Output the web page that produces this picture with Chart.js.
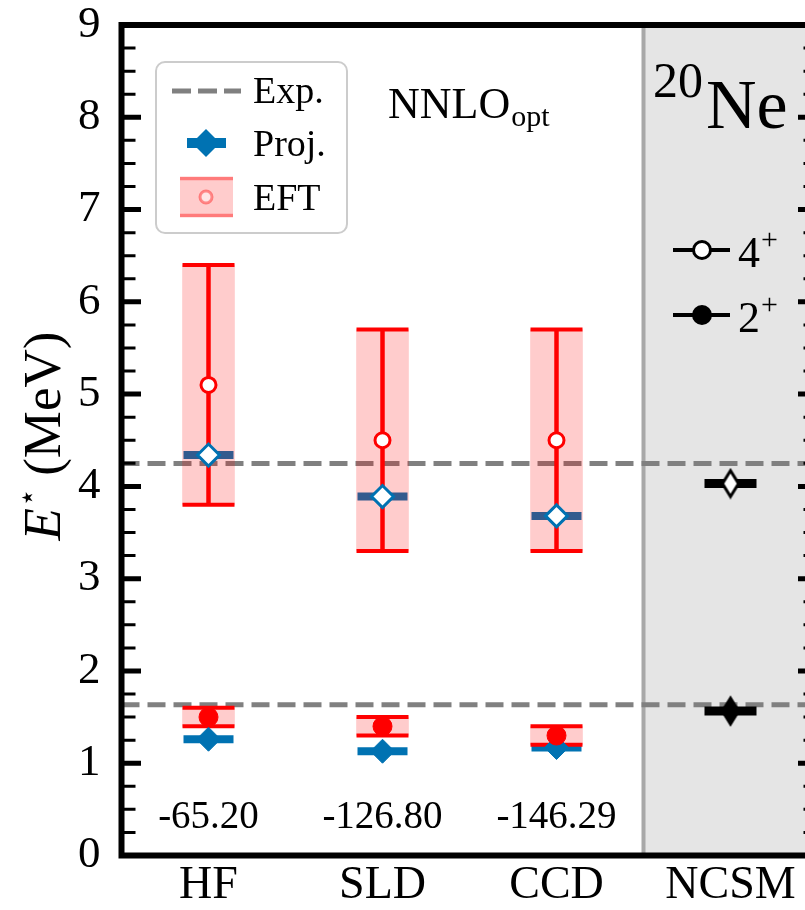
<!DOCTYPE html>
<html><head><meta charset="utf-8">
<script src="https://cdn.jsdelivr.net/npm/chart.js@4.4.1/dist/chart.umd.min.js"></script>
<style>
html,body{margin:0;padding:0;background:#fff;overflow:hidden;width:805px;height:910px}
#wrap{position:relative;width:830px;height:910px}
canvas{display:block}
</style></head>
<body><div id="wrap"><canvas id="c" width="830" height="910" style="width:830px;height:910px"></canvas></div>
<script>
// ---------------- data ----------------
const categories = ['HF', 'SLD', 'CCD', 'NCSM'];
const methodIdx = [0, 1, 2];
const expLevels = [1.634, 4.248];           // Exp. 2+ and 4+
const eft4Center = [5.1, 4.5, 4.5];
const eft4Low = [3.8, 3.3, 3.3];
const eft4High = [6.4, 5.7, 5.7];
const eft2Center = [1.5, 1.4, 1.3];
const eft2Low = [1.4, 1.3, 1.2];
const eft2High = [1.6, 1.5, 1.4];
const proj4 = [4.34, 3.89, 3.68];
const proj2 = [1.26, 1.13, 1.17];
const ncsmIdx = 3;
const ncsm4 = [4.03];
const ncsm2 = [1.565];
const groundEnergies = ['-65.20', '-126.80', '-146.29'];
const yTickValues = [0, 1, 2, 3, 4, 5, 6, 7, 8, 9];

// ---------------- style ----------------
const SERIF = '"Liberation Serif", "DejaVu Serif", serif';
const BLUE = '#0072b2';
const RED = '#ff0000';
const BAND = 'rgba(255,0,0,0.2)';
const EXPC = '#808080';
Chart.defaults.color = '#000';

function thinDiamond(fill) {
  const c = document.createElement('canvas');
  c.width = 24; c.height = 32;
  const g = c.getContext('2d');
  g.beginPath();
  g.moveTo(12, 3); g.lineTo(20, 16); g.lineTo(12, 29); g.lineTo(4, 16); g.closePath();
  g.fillStyle = fill; g.fill();
  g.lineWidth = 3; g.strokeStyle = '#000'; g.lineJoin = 'miter'; g.stroke();
  return c;
}
const dOpen = thinDiamond('#fff');
const dFull = thinDiamond('#000');

const pts = (xs, ys) => xs.map((x, i) => ({ x, y: ys[i] }));
function vSegments(xs, lo, hi) {
  const out = [];
  xs.forEach((x, i) => { out.push({ x, y: lo[i] }, { x, y: hi[i] }, { x, y: null }); });
  return out;
}

const datasets = [
  ...expLevels.map(v => ({
    type: 'line', data: [{ x: -0.5, y: v }, { x: 3.5, y: v }],
    borderColor: EXPC, borderWidth: 5, borderDash: [18, 8], pointRadius: 0, order: 100
  })),
  { type: 'scatter', data: pts(methodIdx, proj4).concat(pts(methodIdx, proj2)),
    pointStyle: 'line', pointRadius: 25, borderColor: BLUE, pointBorderWidth: 8, order: 90 },
  { type: 'scatter', data: pts([ncsmIdx], ncsm4).concat(pts([ncsmIdx], ncsm2)),
    pointStyle: 'line', pointRadius: 26, borderColor: '#000', pointBorderWidth: 9, order: 90 },
  { type: 'bar', data: methodIdx.map(i => ({ x: i, y: [eft4Low[i], eft4High[i]] })),
    backgroundColor: BAND, borderWidth: 0, barThickness: 52, grouped: false, order: 80 },
  { type: 'bar', data: methodIdx.map(i => ({ x: i, y: [eft2Low[i], eft2High[i]] })),
    backgroundColor: BAND, borderWidth: 0, barThickness: 52, grouped: false, order: 80 },
  { type: 'line', data: vSegments(methodIdx, eft4Low, eft4High).concat(vSegments(methodIdx, eft2Low, eft2High)),
    borderColor: RED, borderWidth: 4.5, pointRadius: 0, spanGaps: false, order: 70 },
  { type: 'scatter', data: pts(methodIdx, eft4Low).concat(pts(methodIdx, eft4High), pts(methodIdx, eft2Low), pts(methodIdx, eft2High)),
    pointStyle: 'line', pointRadius: 26, borderColor: RED, pointBorderWidth: 4, order: 60 },
  { type: 'scatter', data: pts(methodIdx, proj2),
    pointStyle: 'rectRot', pointRadius: 12, backgroundColor: BLUE, borderColor: BLUE, pointBorderWidth: 1, order: 55 },
  { type: 'scatter', data: pts(methodIdx, eft2Center),
    pointStyle: 'circle', pointRadius: 9.5, backgroundColor: RED, borderColor: RED, pointBorderWidth: 1, order: 50 },
  { type: 'scatter', data: pts(methodIdx, eft4Center),
    pointStyle: 'circle', pointRadius: 7.5, backgroundColor: '#fff', borderColor: RED, pointBorderWidth: 3, order: 50 },
  { type: 'scatter', data: pts(methodIdx, proj4),
    pointStyle: 'rectRot', pointRadius: 11, backgroundColor: '#fff', borderColor: BLUE, pointBorderWidth: 3, order: 40 },
  { type: 'scatter', data: pts([ncsmIdx], ncsm4), pointStyle: dOpen, pointRadius: 12, order: 40 },
  { type: 'scatter', data: pts([ncsmIdx], ncsm2), pointStyle: dFull, pointRadius: 12, order: 40 }
];

const decor = {
  id: 'decor',
  beforeDatasetsDraw(chart) {
    const { ctx, chartArea: a, scales: { x } } = chart;
    const x1 = x.getPixelForValue(2.5), x2 = x.getPixelForValue(3.5);
    ctx.save();
    ctx.fillStyle = '#e5e5e5';
    ctx.fillRect(x1, a.top, x2 - x1, a.bottom - a.top);
    ctx.strokeStyle = '#a8a8a8'; ctx.lineWidth = 4;
    ctx.beginPath(); ctx.moveTo(x1, a.top); ctx.lineTo(x1, a.bottom); ctx.stroke();
    ctx.restore();
  },
  afterDraw(chart) {
    const { ctx, chartArea: a, scales: { x, y } } = chart;
    ctx.save();
    ctx.strokeStyle = '#000';
    for (let k = 0; k <= 36; k++) {
      const v = k * 0.25, major = k % 4 === 0;
      const py = y.getPixelForValue(v);
      ctx.lineWidth = major ? 5 : 3;
      const L = major ? 19.5 : 14;
      ctx.beginPath();
      ctx.moveTo(a.left, py); ctx.lineTo(a.left + L, py);
      ctx.moveTo(a.right, py); ctx.lineTo(a.right - L, py);
      ctx.stroke();
    }
    ctx.lineWidth = 6; ctx.strokeStyle = '#000';
    ctx.strokeRect(a.left, a.top, a.right - a.left, a.bottom - a.top);

    // y label
    ctx.save();
    ctx.fillStyle = '#000';
    ctx.translate(46, 436); ctx.rotate(-Math.PI / 2);
    ctx.textBaseline = 'middle';
    const fI = 'italic 53px ' + SERIF, fS = '30px ' + SERIF, fN = '53px ' + SERIF;
    ctx.font = fI; const wE = ctx.measureText('E').width;
    ctx.font = fS; const wS = ctx.measureText('\u22C6').width;
    ctx.font = fN; const wR = ctx.measureText(' (MeV)').width;
    let sx = -(wE + wS + wR) / 2;
    ctx.font = fI; ctx.fillText('E', sx, 0); sx += wE + 1;
    ctx.font = fS; ctx.fillText('\u22C6', sx, -17); sx += wS - 1;
    ctx.font = fN; ctx.fillText(' (MeV)', sx, 0);
    ctx.restore();

    ctx.fillStyle = '#000';
    ctx.font = '39px ' + SERIF; ctx.textAlign = 'center'; ctx.textBaseline = 'alphabetic';
    const by = y.getPixelForValue(0.3);
    methodIdx.forEach(i => ctx.fillText(groundEnergies[i], x.getPixelForValue(i), by));

    ctx.textAlign = 'left';
    ctx.font = '44px ' + SERIF; ctx.fillText('NNLO', 388, 118);
    const wN = ctx.measureText('NNLO').width;
    ctx.font = '30px ' + SERIF; ctx.fillText('opt', 388 + wN + 1, 126);

    ctx.font = '50px ' + SERIF; ctx.fillText('20', 653, 97);
    const w20 = ctx.measureText('20').width;
    ctx.font = '70px ' + SERIF; ctx.fillText('Ne', 653 + w20 + 3, 128);

    const rows = [{ yy: 250, fill: '#fff', t: '4' }, { yy: 315, fill: '#000', t: '2' }];
    rows.forEach(r => {
      ctx.strokeStyle = '#000'; ctx.lineWidth = 4;
      ctx.beginPath(); ctx.moveTo(673, r.yy); ctx.lineTo(730, r.yy); ctx.stroke();
      ctx.beginPath(); ctx.arc(702, r.yy, 8.5, 0, Math.PI * 2);
      ctx.fillStyle = r.fill; ctx.fill(); ctx.lineWidth = 3; ctx.stroke();
      ctx.fillStyle = '#000';
      ctx.font = '44px ' + SERIF; ctx.fillText(r.t, 738, r.yy + 17);
      const wt = ctx.measureText(r.t).width;
      ctx.font = '30px ' + SERIF; ctx.fillText('+', 738 + wt + 1, r.yy - 1);
    });

    ctx.beginPath(); ctx.roundRect(156, 62, 191, 171, 9);
    ctx.fillStyle = 'rgba(255,255,255,0.85)'; ctx.fill();
    ctx.lineWidth = 2; ctx.strokeStyle = '#cccccc'; ctx.stroke();
    ctx.setLineDash([19, 7]); ctx.lineWidth = 5; ctx.strokeStyle = EXPC;
    ctx.beginPath(); ctx.moveTo(172, 91); ctx.lineTo(241, 91); ctx.stroke();
    ctx.setLineDash([]);
    ctx.fillStyle = BLUE;
    ctx.fillRect(187, 138, 39, 10);
    ctx.beginPath(); ctx.moveTo(206, 129); ctx.lineTo(220, 143); ctx.lineTo(206, 157); ctx.lineTo(192, 143); ctx.closePath(); ctx.fill();
    ctx.fillStyle = BAND; ctx.fillRect(180, 177, 53, 40);
    ctx.strokeStyle = 'rgba(255,0,0,0.4)'; ctx.lineWidth = 3.5;
    ctx.beginPath(); ctx.moveTo(180, 178.5); ctx.lineTo(233, 178.5); ctx.moveTo(180, 215.5); ctx.lineTo(233, 215.5); ctx.stroke();
    ctx.beginPath(); ctx.arc(206, 197, 6, 0, Math.PI * 2);
    ctx.fillStyle = 'rgba(255,255,255,0.5)'; ctx.fill(); ctx.lineWidth = 3; ctx.stroke();
    ctx.fillStyle = '#000'; ctx.font = '38px ' + SERIF;
    ctx.fillText('Exp.', 253, 103);
    ctx.fillText('Proj.', 253, 156);
    ctx.fillText('EFT', 253, 210);
    ctx.restore();
  }
};

new Chart(document.getElementById('c'), {
  type: 'scatter',
  data: { datasets },
  options: {
    responsive: false, animation: false, devicePixelRatio: 1,
    layout: { autoPadding: false, padding: { top: 25, right: 12.5, left: 0, bottom: 0 } },
    plugins: { legend: { display: false }, tooltip: { enabled: false } },
    scales: {
      x: {
        type: 'linear', min: -0.5, max: 3.5, offset: false,
        grid: { display: false, drawTicks: false, offset: false }, border: { display: false },
        afterBuildTicks: s => { s.ticks = categories.map((c, i) => ({ value: i })); },
        afterFit: s => { s.height = 54.5; s.paddingLeft = 0; s.paddingRight = 0; },
        ticks: { autoSkip: false, maxRotation: 0, padding: 3, font: { family: SERIF, size: 46 },
          callback: v => categories[v] ?? '' }
      },
      y: {
        min: 0, max: 9,
        grid: { display: false, drawTicks: false }, border: { display: false },
        afterBuildTicks: s => { s.ticks = yTickValues.map(v => ({ value: v })); },
        afterFit: s => { s.width = 121.5; s.paddingTop = 0; s.paddingBottom = 0; },
        ticks: { padding: 21, font: { family: SERIF, size: 45 } }
      }
    }
  },
  plugins: [decor]
});
</script></body></html>
